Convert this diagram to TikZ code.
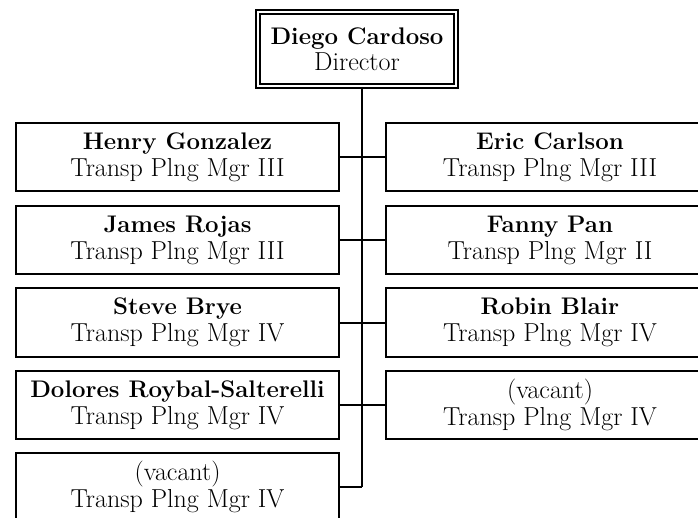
\documentclass[tikz,border=0pt]{standalone}
\begin{document}
\begin{tikzpicture}[x=1pt,y=-1pt,
  box/.style={draw, line width=2pt, minimum width=323pt, minimum height=68pt,
    inner sep=0pt, align=center, font=\fontsize{26}{27}\selectfont},
  rbox/.style={box, minimum width=328pt},
  dirbox/.style={draw, line width=1.8pt, double, double distance=1.6pt,
    minimum width=198pt, minimum height=74pt, inner sep=0pt, align=center,
    font=\fontsize{26}{26}\selectfont},
  conn/.style={line width=2pt}]
\useasboundingbox (0,0) rectangle (698,518);
\newcommand{\nm}[1]{{\fontsize{24}{27}\selectfont\bfseries #1}}
\node[dirbox] (dir) at (357,49) {\nm{Diego Cardoso}\\Director};
\node[box] (l1) at (177.5,157) {\nm{Henry Gonzalez}\\Transp Plng Mgr III};
\node[box] (l2) at (177.5,240) {\nm{James Rojas}\\Transp Plng Mgr III};
\node[box] (l3) at (177.5,322.5) {\nm{Steve Brye}\\Transp Plng Mgr IV};
\node[box] (l4) at (177.5,405) {\nm{Dolores Roybal-Salterelli}\\Transp Plng Mgr IV};
\node[box] (l5) at (177.5,487) {(vacant)\\Transp Plng Mgr IV};
\node[rbox] (r1) at (550,157) {\nm{Eric Carlson}\\Transp Plng Mgr III};
\node[rbox] (r2) at (550,240) {\nm{Fanny Pan}\\Transp Plng Mgr II};
\node[rbox] (r3) at (550,322.5) {\nm{Robin Blair}\\Transp Plng Mgr IV};
\node[rbox] (r4) at (550,405) {(vacant)\\Transp Plng Mgr IV};
\coordinate (t1) at (362,157);
\coordinate (t2) at (362,240);
\coordinate (t3) at (362,322.5);
\coordinate (t4) at (362,405);
\coordinate (t5) at (362,487);
\draw[conn] (dir.south -| t1) -- (t5);
\draw[conn] (l1.east) -- (t1) -- (r1.west);
\draw[conn] (l2.east) -- (t2) -- (r2.west);
\draw[conn] (l3.east) -- (t3) -- (r3.west);
\draw[conn] (l4.east) -- (t4) -- (r4.west);
\draw[conn] (l5.east) -- (t5);
\end{tikzpicture}
\end{document}
